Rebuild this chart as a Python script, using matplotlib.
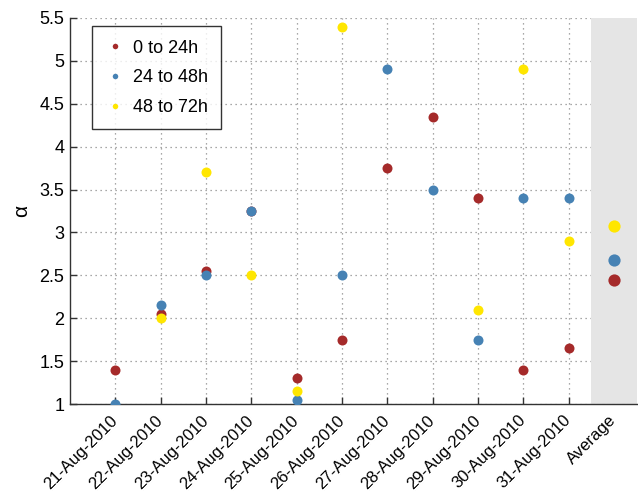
#!/usr/bin/env python3
"""Scatter of alpha per day for three time windows, with the average in a shaded column."""

import matplotlib

matplotlib.use("Agg")
import matplotlib.pyplot as plt
import numpy as np

DAYS = [
    "21-Aug-2010", "22-Aug-2010", "23-Aug-2010", "24-Aug-2010",
    "25-Aug-2010", "26-Aug-2010", "27-Aug-2010", "28-Aug-2010",
    "29-Aug-2010", "30-Aug-2010", "31-Aug-2010",
]
SERIES = ["0 to 24h", "24 to 48h", "48 to 72h"]
ALPHA_0_24 = [1.40, 2.05, 2.55, 3.25, 1.30, 1.75, 3.75, 4.35, 3.40, 1.40, 1.65]
ALPHA_24_48 = [1.00, 2.15, 2.50, 3.25, 1.05, 2.50, 4.90, 3.50, 1.75, 3.40, 3.40]
ALPHA_48_72 = [np.nan, 2.00, 3.70, 2.50, 1.15, 5.40, np.nan, np.nan, 2.10, 4.90, 2.90]
AVERAGES = [2.44, 2.68, 3.08]
COLORS = ["#A52A2A", "#4682B4", "#FFE600"]


def main() -> None:
    plt.rcParams["font.family"] = ["Liberation Sans", "DejaVu Sans"]
    fig = plt.figure(figsize=(6.38, 4.93), dpi=100)
    ax = fig.add_axes([0.1097, 0.1805, 0.888, 0.783])

    x = np.arange(1, len(DAYS) + 1)
    x_avg = len(DAYS) + 1

    ax.axvspan(x_avg - 0.5, x_avg + 0.5, color="#E5E5E5", zorder=1, lw=0)

    for values, avg, label, color in zip(
        [ALPHA_0_24, ALPHA_24_48, ALPHA_48_72], AVERAGES, SERIES, COLORS
    ):
        ax.plot(x, values, linestyle="none", marker="o", markersize=7.2,
                color=color, markeredgewidth=0, label=label, zorder=3)
        ax.plot([x_avg], [avg], linestyle="none", marker="o", markersize=8.8,
                color=color, markeredgewidth=0, zorder=3)

    ax.set_xlim(0, x_avg + 0.5)
    ax.set_ylim(1, 5.5)
    ax.set_xticks(list(x) + [x_avg])
    ax.set_xticklabels(DAYS + ["Average"], rotation=45, ha="right", va="center",
                       rotation_mode="anchor", fontsize=12)
    yticks = np.arange(1, 5.51, 0.5)
    ax.set_yticks(yticks)
    ax.set_yticklabels([f"{t:g}" for t in yticks], fontsize=13)
    ax.set_ylabel("α", fontsize=15, labelpad=6)

    ax.grid(True, linestyle=(0, (1, 3)), color="#8C8C8C", linewidth=0.9, zorder=0)
    ax.set_axisbelow(True)
    for side in ["top", "right"]:
        ax.spines[side].set_visible(False)
    for side in ["left", "bottom"]:
        ax.spines[side].set_color("#333333")
        ax.spines[side].set_linewidth(1.0)
    ax.tick_params(direction="in", length=5, width=1, color="#333333", pad=4)
    ax.tick_params(axis="x", pad=10)

    leg = ax.legend(loc="upper left", bbox_to_anchor=(0.0388, 0.979), fontsize=13,
                    markerscale=0.55, frameon=True, fancybox=False,
                    edgecolor="black", borderpad=0.75, labelspacing=0.7,
                    handletextpad=0.5, handlelength=1.0, borderaxespad=0)
    leg.get_frame().set_linewidth(1.0)

    fig.savefig("out.png", dpi=100)
    plt.close(fig)


if __name__ == "__main__":
    main()
